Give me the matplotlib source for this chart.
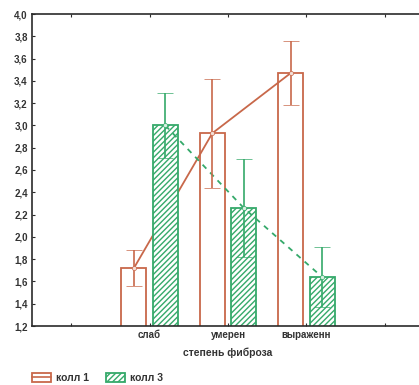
import numpy as np
import matplotlib
matplotlib.use("Agg")
import matplotlib.pyplot as plt
from matplotlib.patches import Patch
from matplotlib.lines import Line2D
from matplotlib.ticker import FuncFormatter, MultipleLocator

plt.rcParams["font.family"] = ["Liberation Sans", "DejaVu Sans"]

categories = ["слаб", "умерен", "выраженн"]
koll1 = [1.72, 2.93, 3.47]
koll1_err = [0.16, 0.49, 0.29]
koll3 = [3.00, 2.26, 1.64]
koll3_err = [0.29, 0.44, 0.27]

RED = "#c8684a"; GREEN = "#35a96a"; AX = "#2b2b2b"

fig = plt.figure(figsize=(4.19, 3.85), dpi=100)
ax = fig.add_axes([32/419, 59/385, 392/419, 312/385])

x = np.arange(1, len(categories) + 1)
w = 0.32; off = 0.2
ax.bar(x - off, koll1, w, facecolor="white", edgecolor=RED, lw=1.3, zorder=1)
ax.plot(x - off, koll1, color=RED, lw=1.3, zorder=1.5)
plt.rcParams["hatch.color"] = "#5cbf86"
ax.bar(x + off, koll3, w, facecolor="white", edgecolor=GREEN, hatch="//////", lw=1.3, zorder=2)
ax.plot(x + off, koll3, color=GREEN, lw=1.3, ls=(0, (3, 3)), zorder=3)
ax.errorbar(x - off, koll1, yerr=koll1_err, fmt="o", ms=3, mfc="#f4e0d8", mec=RED, mew=0.5,
            ecolor=RED, elinewidth=1.2, capsize=6, capthick=1.2, zorder=4)
ax.errorbar(x + off, koll3, yerr=koll3_err, fmt="o", ms=3, mfc="#d8f0e2", mec=GREEN, mew=0.5,
            ecolor=GREEN, elinewidth=1.2, capsize=6, capthick=1.2, zorder=4)

ax.set_xlim(-0.5, 4.5)
ax.set_ylim(1.2, 4.0)
ax.yaxis.set_major_locator(MultipleLocator(0.2))
ax.yaxis.set_major_formatter(FuncFormatter(lambda v, p: f"{v:.1f}".replace(".", ",")))
ax.set_xticks(range(0, 5))
ax.set_xticklabels([""] + categories + [""])
ax.tick_params(direction="in", length=2, width=0.8, top=True, colors=AX, labelsize=7, pad=3)
for lab in ax.get_xticklabels() + ax.get_yticklabels():
    lab.set_fontweight("bold"); lab.set_color("#333333")
for s in ax.spines.values():
    s.set_color(AX); s.set_linewidth(1.2)
ax.set_xlabel("степень фиброза", fontsize=7.5, fontweight="bold", color="#333333", labelpad=5)

h1 = (Patch(facecolor="white", edgecolor=RED, lw=1.3), Line2D([], [], color=RED, lw=1.2))
h3 = Patch(facecolor="white", edgecolor=GREEN, hatch="//////", lw=1.3)
leg = fig.legend([h1, h3], ["колл 1", "колл 3"], loc="lower left", bbox_to_anchor=(0.055, -0.02),
                 ncol=2, frameon=False, fontsize=7.5, handlelength=1.8, handleheight=0.9,
                 columnspacing=1.6, handletextpad=0.5)
for t in leg.get_texts():
    t.set_fontweight("bold"); t.set_color("#333333")

fig.savefig("out.png", dpi=100, facecolor="white")
